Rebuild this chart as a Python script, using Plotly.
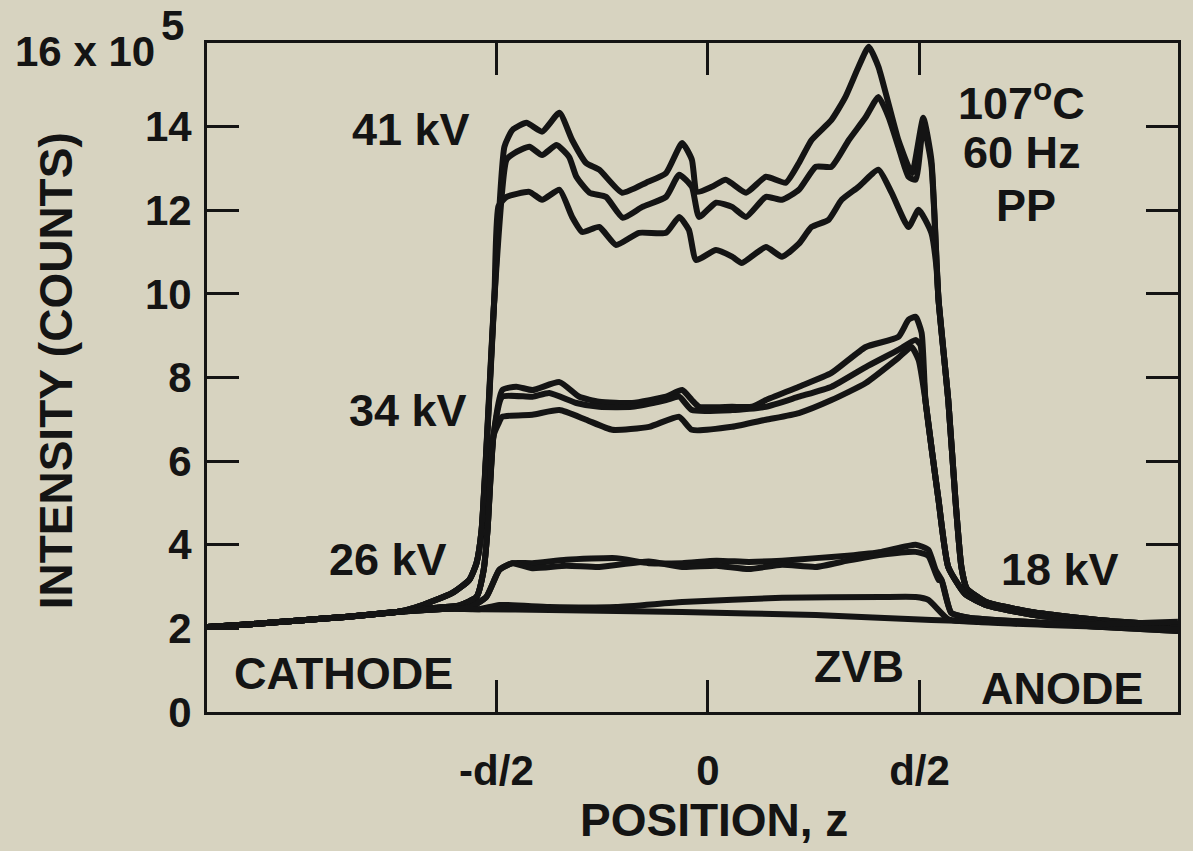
import plotly.graph_objects as go

# Position z across the specimen in units of its thickness d (electrodes at -d/2 and d/2).
# Intensity in units of 10^5 counts.

# background on the cathode side, shared by every trace
BASE_Z = [-1.184, -1.08, -0.965, -0.85, -0.73]
BASE_I = [2.03, 2.10, 2.19, 2.28, 2.40]

# ---------------- 41 kV ----------------
RISE41_Z = [-0.69, -0.604, -0.564, -0.547, -0.535, -0.505]
RISE41_I = [2.50, 2.85, 3.16, 3.56, 4.35, 9.86]
FALL41_Z = [0.545, 0.568, 0.585, 0.599, 0.612, 0.656, 0.764, 0.922, 1.111]
FALL41_I = [9.86, 7.46, 5.07, 3.47, 2.95, 2.64, 2.39, 2.20, 2.06]

K41_TOP_Z = [-0.481, -0.462, -0.429, -0.392, -0.351, -0.321, -0.288, -0.257, -0.203,
             -0.146, -0.099, -0.061, -0.038, -0.026, 0.009, 0.042, 0.090, 0.137, 0.184,
             0.215, 0.245, 0.292, 0.325, 0.356, 0.380, 0.403, 0.420, 0.450, 0.474,
             0.483, 0.509, 0.528]
K41_TOP_I = [13.52, 13.92, 14.09, 13.88, 14.33, 13.68, 13.13, 12.97, 12.42,
             12.66, 12.89, 13.61, 13.21, 12.44, 12.56, 12.73, 12.42, 12.80, 12.66,
             13.13, 13.68, 14.16, 14.71, 15.43, 15.91, 15.43, 14.81, 13.68, 13.04,
             12.89, 14.21, 13.21]

K41_MID_Z = [-0.476, -0.457, -0.422, -0.392, -0.358, -0.328, -0.311, -0.280, -0.241,
             -0.201, -0.155, -0.099, -0.068, -0.038, -0.021, 0.019, 0.057, 0.090, 0.137,
             0.175, 0.215, 0.255, 0.292, 0.333, 0.373, 0.403, 0.427, 0.450, 0.474,
             0.491, 0.509, 0.528]
K41_MID_I = [13.21, 13.37, 13.52, 13.32, 13.56, 13.27, 12.80, 12.42, 12.32,
             11.82, 12.08, 12.32, 12.85, 12.56, 11.84, 12.18, 12.08, 11.84, 12.32,
             12.25, 12.49, 13.04, 13.04, 13.68, 14.23, 14.71, 14.23, 13.52, 12.80,
             12.73, 14.04, 13.10]

K41_LOW_Z = [-0.495, -0.476, -0.422, -0.392, -0.351, -0.321, -0.297, -0.257, -0.217,
             -0.163, -0.099, -0.068, -0.045, -0.028, 0.019, 0.057, 0.080, 0.137, 0.175,
             0.215, 0.245, 0.285, 0.316, 0.356, 0.403, 0.434, 0.474, 0.498, 0.528, 0.540]
K41_LOW_I = [12.10, 12.32, 12.44, 12.25, 12.49, 11.84, 11.48, 11.60, 11.17,
             11.46, 11.46, 11.84, 11.53, 10.81, 11.05, 10.89, 10.74, 11.12, 10.89,
             11.20, 11.60, 11.77, 12.25, 12.56, 12.97, 12.42, 11.60, 12.01, 11.46, 10.65]

# ---------------- 34 kV ----------------
RISE34_Z = [-0.66, -0.587, -0.547, -0.530, -0.521, -0.507]
RISE34_I = [2.48, 2.55, 2.75, 3.40, 4.35, 6.60]
FALL34_Z = [0.514, 0.530, 0.545, 0.568, 0.608, 0.660, 0.764, 0.922, 1.111]
FALL34_I = [7.46, 6.20, 5.07, 3.47, 2.82, 2.55, 2.33, 2.12, 1.97]

K34_TOP_Z = [-0.486, -0.453, -0.415, -0.351, -0.304, -0.257, -0.179, -0.099, -0.061,
             -0.038, -0.021, 0.057, 0.104, 0.137, 0.215, 0.292, 0.373, 0.450, 0.474,
             0.491, 0.505]
K34_TOP_I = [7.70, 7.78, 7.70, 7.89, 7.54, 7.42, 7.39, 7.54, 7.70,
             7.46, 7.30, 7.30, 7.30, 7.46, 7.78, 8.11, 8.73, 8.97, 9.38,
             9.45, 9.07]

K34_MID_Z = [-0.486, -0.415, -0.375, -0.311, -0.257, -0.179, -0.099, -0.068, -0.038,
             0.057, 0.137, 0.215, 0.292, 0.373, 0.450, 0.491, 0.502]
K34_MID_I = [7.54, 7.54, 7.63, 7.39, 7.30, 7.30, 7.46, 7.54, 7.22,
             7.22, 7.30, 7.54, 7.78, 8.25, 8.66, 8.90, 8.78]

K34_LOW_Z = [-0.495, -0.486, -0.415, -0.351, -0.288, -0.226, -0.139, -0.068, -0.038,
             0.057, 0.137, 0.215, 0.292, 0.373, 0.450, 0.481, 0.498]
K34_LOW_I = [6.90, 7.06, 7.11, 7.22, 6.99, 6.75, 6.82, 7.06, 6.75,
             6.82, 6.99, 7.15, 7.46, 7.87, 8.47, 8.73, 8.42]

# ---------------- 26 kV ----------------
RISE26_Z = [-0.62, -0.564, -0.524, -0.493, -0.462]
RISE26_I = [2.47, 2.50, 2.75, 3.40, 3.56]
FALL26_Z = [0.552, 0.575, 0.620, 0.764, 0.922, 1.111]
FALL26_I = [3.16, 2.37, 2.25, 2.15, 2.04, 1.94]

K26_TOP_Z = [-0.415, -0.335, -0.217, -0.140, -0.061, 0.020, 0.097, 0.175, 0.255,
             0.330, 0.410, 0.491, 0.521, 0.538]
K26_TOP_I = [3.56, 3.64, 3.68, 3.56, 3.56, 3.62, 3.59, 3.62, 3.68,
             3.74, 3.83, 4.00, 3.88, 3.40]

K26_LOW_Z = [-0.415, -0.335, -0.257, -0.140, -0.061, 0.020, 0.097, 0.175, 0.255,
             0.330, 0.410, 0.491, 0.521, 0.545]
K26_LOW_I = [3.44, 3.50, 3.47, 3.60, 3.47, 3.50, 3.42, 3.52, 3.47,
             3.62, 3.76, 3.83, 3.73, 3.16]

# ---------------- 18 kV ----------------
K18_UP_Z = [-0.60, -0.54, -0.493, -0.375, -0.217, -0.061, 0.175, 0.410, 0.491,
            0.521, 0.568, 0.640, 0.800, 1.111]
K18_UP_I = [2.47, 2.46, 2.56, 2.51, 2.51, 2.63, 2.73, 2.75, 2.75,
            2.68, 2.22, 2.15, 2.08, 1.98]

K18_LOW_Z = [-0.60, -0.54, -0.375, -0.061, 0.255, 0.528, 0.686, 0.922, 1.111]
K18_LOW_I = [2.47, 2.46, 2.44, 2.39, 2.32, 2.20, 2.15, 2.10, 2.16]

INK = "#141414"
PAPER = "#d7d3c0"
FONT = "Liberation Sans, Arial, sans-serif"

curves = [
    (RISE41_Z, RISE41_I, K41_TOP_Z, K41_TOP_I, FALL41_Z, FALL41_I),
    (RISE41_Z, RISE41_I, K41_MID_Z, K41_MID_I, FALL41_Z, FALL41_I),
    (RISE41_Z, RISE41_I, K41_LOW_Z, K41_LOW_I, FALL41_Z, FALL41_I),
    (RISE34_Z, RISE34_I, K34_TOP_Z, K34_TOP_I, FALL34_Z, FALL34_I),
    (RISE34_Z, RISE34_I, K34_MID_Z, K34_MID_I, FALL34_Z, FALL34_I),
    (RISE34_Z, RISE34_I, K34_LOW_Z, K34_LOW_I, FALL34_Z, FALL34_I),
    (RISE26_Z, RISE26_I, K26_TOP_Z, K26_TOP_I, FALL26_Z, FALL26_I),
    (RISE26_Z, RISE26_I, K26_LOW_Z, K26_LOW_I, FALL26_Z, FALL26_I),
    (K18_UP_Z, K18_UP_I),
    (K18_LOW_Z, K18_LOW_I),
]

fig = go.Figure()
for parts in curves:
    z = list(BASE_Z)
    y = list(BASE_I)
    for k in range(0, len(parts), 2):
        z += parts[k]
        y += parts[k + 1]
    fig.add_trace(go.Scatter(
        x=z, y=y, mode="lines",
        line=dict(color=INK, width=6, shape="spline", smoothing=0.5),
        hoverinfo="skip", showlegend=False,
    ))

label_font = dict(family=FONT, size=45, color=INK, weight="bold")
labels = [
    ("41 kV", -0.703, 13.92),
    ("34 kV", -0.708, 7.22),
    ("26 kV", -0.757, 3.64),
    ("18 kV", 0.833, 3.40),
    ("107<sup>o</sup>C", 0.741, 14.64),
    ("60 Hz", 0.743, 13.37),
    ("PP", 0.752, 12.11),
    ("CATHODE", -0.861, 0.91),
    ("ZVB", 0.356, 1.10),
    ("ANODE", 0.837, 0.57),
]
for text, zx, iy in labels:
    fig.add_annotation(x=zx, y=iy, xref="x", yref="y", text=text, showarrow=False,
                       font=label_font, xanchor="center", yanchor="middle")

# axis scale factor at the top of the intensity axis
scale_font = dict(family=FONT, size=42, color=INK, weight="bold")
fig.add_annotation(x=-0.0514, y=0.988, xref="paper", yref="paper", text="16 x 10",
                   showarrow=False, font=scale_font, xanchor="right", yanchor="middle")
fig.add_annotation(x=-0.0495, y=1.026, xref="paper", yref="paper", text="5",
                   showarrow=False, font=scale_font, xanchor="left", yanchor="middle")

# axis titles
title_font = dict(family=FONT, size=46, color=INK, weight="bold")
fig.add_annotation(x=-0.156, y=0.51, xref="paper", yref="paper", text="INTENSITY (COUNTS)",
                   textangle=-90, showarrow=False, font=title_font,
                   xanchor="center", yanchor="middle")
fig.add_annotation(x=0.522, y=-0.161, xref="paper", yref="paper", text="POSITION, z",
                   showarrow=False, font=title_font, xanchor="center", yanchor="middle")

fig.update_layout(
    width=1193, height=851, autosize=False,
    margin=dict(l=207, r=13, t=43, b=139),
    paper_bgcolor=PAPER, plot_bgcolor=PAPER,
    font=dict(family=FONT, size=42, color=INK, weight="bold"),
    showlegend=False,
)
tick_font = dict(family=FONT, size=42, color=INK, weight="bold")
fig.update_xaxes(
    range=[-1.184, 1.111], showgrid=False, zeroline=False,
    showline=True, linewidth=3, linecolor=INK, mirror="ticks",
    ticks="inside", ticklen=32, tickwidth=3, tickcolor=INK,
    tickvals=[-0.5, 0, 0.5], ticktext=["-d/2", "0", "d/2"],
    ticklabelstandoff=20, tickfont=tick_font,
)
fig.update_yaxes(
    range=[0, 16], showgrid=False, zeroline=False,
    showline=True, linewidth=3, linecolor=INK, mirror="ticks",
    ticks="inside", ticklen=32, tickwidth=3, tickcolor=INK,
    tickvals=[0, 2, 4, 6, 8, 10, 12, 14],
    ticktext=["0", "2", "4", "6", "8", "10", "12", "14"],
    ticklabelstandoff=4, tickfont=tick_font,
)

fig.write_html("out.html")
